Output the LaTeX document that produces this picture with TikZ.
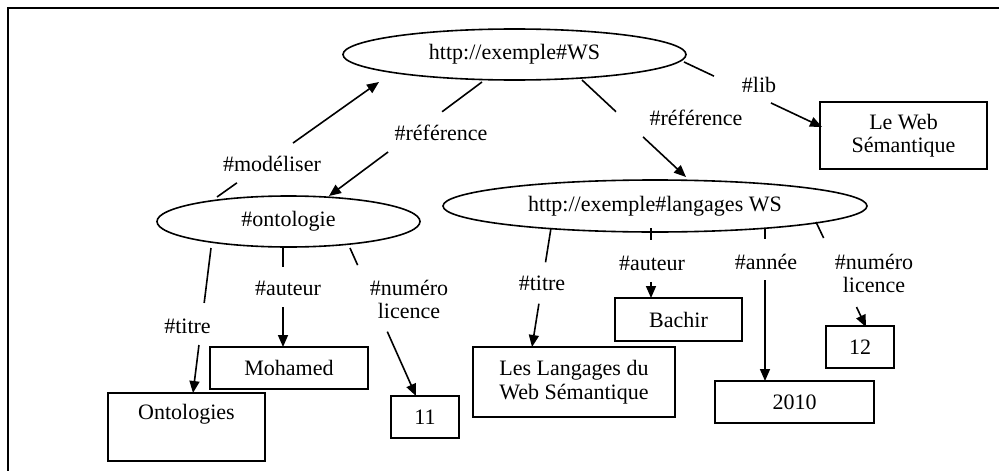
\documentclass[tikz,border=0pt]{standalone}
\usepackage{fontspec}
\setmainfont{Liberation Serif}
\usetikzlibrary{shapes.geometric,arrows.meta,calc}

% A property arc drawn as two pieces, with a gap left for its label:
% #1 source node, #2 offset of the start from its centre,
% #3 target node, #4 offset of the arrow tip from its centre,
% #5 end of the first piece, #6 start of the arrow piece (fractions along the arc).
\newcommand{\splitarc}[6]{%
  \coordinate (sa) at ($(#1)+(#2)$);
  \coordinate (sb) at ($(#3)+(#4)$);
  \draw[link] (sa) -- ($(sa)!#5!(sb)$);
  \draw[arc] ($(sa)!#6!(sb)$) -- (sb);}

\begin{document}
\begin{tikzpicture}[x=1pt,y=-1pt,
  every node/.style={font=\fontsize{22}{23.5}\selectfont, inner sep=0pt},
  res/.style={draw, ellipse, line width=1.6pt},
  lit/.style={draw, rectangle, line width=1.6pt, align=center},
  prop/.style={align=center},
  link/.style={line width=1.6pt},
  arc/.style={line width=1.6pt, -{Triangle[length=12pt,width=10pt]}}]
\useasboundingbox (0,0) rectangle (999,471);

% frame
\draw[line width=2.5pt] (8,471) -- (8,8) -- (999,8);

% resources
\node[res, minimum width=343, minimum height=51] (ws)   at (514.5,54.5) {http://exemple\#WS};
\node[res, minimum width=263, minimum height=51] (onto) at (288.5,221.5) {\#ontologie};
\node[res, minimum width=424, minimum height=52] (lang) at (655,206) {http://exemple\#langages WS};

% literals
\node[lit, minimum width=167, minimum height=67] (lib)     at (903.5,135.5) {Le Web\\Sémantique};
\node[lit, minimum width=157, minimum height=68] (tonto)   at (186.5,427) {Ontologies\\\strut};
\node[lit, minimum width=158, minimum height=42] (mohamed) at (289,368) {Mohamed};
\node[lit, minimum width=68,  minimum height=42] (n11)     at (425,417) {11};
\node[lit, minimum width=202, minimum height=70] (tlang)   at (574,382) {Les Langages du\\Web Sémantique};
\node[lit, minimum width=127, minimum height=43] (bachir)  at (678.5,319.5) {Bachir};
\node[lit, minimum width=159, minimum height=42] (y2010)   at (794.5,402) {2010};
\node[lit, minimum width=68,  minimum height=42] (n12)     at (860,347) {12};

% property labels
\node[prop] (pmod)   at (272,164)   {\#modéliser};
\node[prop] (pref1)  at (441,133)   {\#référence};
\node[prop] (pref2)  at (696,118)   {\#référence};
\node[prop] (plib)   at (759,85)    {\#lib};
\node[prop] (ptit1)  at (187.5,326) {\#titre};
\node[prop] (paut1)  at (288,288)   {\#auteur};
\node[prop] (pnum1)  at (409,299.5) {\#numéro\\licence};
\node[prop] (ptit2)  at (542,283)   {\#titre};
\node[prop] (paut2)  at (652,263)   {\#auteur};
\node[prop] (pannee) at (766,262)   {\#année};
\node[prop] (pnum2)  at (874,273.5) {\#numéro\\licence};

% arcs
\splitarc{onto}{-71.5,-24.5}{ws}{-135.5,27.5}{0.123}{0.469}
\splitarc{ws}{-32.5,27.5}{onto}{40.5,-25.5}{0.261}{0.614}
\splitarc{ws}{67.5,25.5}{lang}{31,-29}{0.327}{0.587}
\splitarc{ws}{169.5,7.5}{lib}{-81.5,-8.5}{0.217}{0.630}

\splitarc{onto}{-77.5,26.5}{tonto}{6.5,-34}{0.379}{0.669}
\splitarc{onto}{-5.5,26.5}{mohamed}{-6,-21}{0.192}{0.596}
\splitarc{onto}{61.5,26.5}{n11}{-9,-21}{0.116}{0.565}

\splitarc{lang}{-104,22}{tlang}{-42,-35}{0.288}{0.636}
\splitarc{lang}{-4,22}{bachir}{-27.5,-21.5}{0.171}{0.771}
\splitarc{lang}{110,22}{y2010}{-29.5,-21}{0.072}{0.340}
\splitarc{lang}{161,16}{n12}{6,-20}{0.152}{0.810}
\end{tikzpicture}
\end{document}
